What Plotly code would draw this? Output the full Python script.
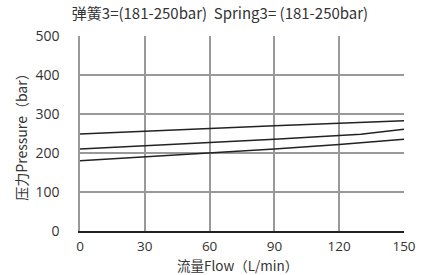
import plotly.graph_objects as go

flow_top = [0, 30, 60, 90, 120, 150]
p_top = [249, 256, 264, 270, 276, 283]
flow_mid = [0, 30, 60, 90, 120, 130, 150]
p_mid = [210, 219, 227, 235, 244, 248, 261]
flow_bot = [0, 30, 60, 90, 120, 150]
p_bot = [180, 190, 200, 210, 222, 235]

x_ticks = [0, 30, 60, 90, 120, 150]
y_ticks = [0, 100, 200, 300, 400, 500]

cjk_font = "Noto Sans CJK SC, Noto Sans, sans-serif"
num_font = "Open Sans, Noto Sans, sans-serif"

fig = go.Figure()
for xs, ys in [(flow_top, p_top), (flow_mid, p_mid), (flow_bot, p_bot)]:
    fig.add_trace(go.Scatter(x=xs, y=ys, mode="lines",
                             line=dict(color="#222222", width=1.5),
                             showlegend=False, hoverinfo="skip"))

fig.update_layout(
    width=440, height=275,
    margin=dict(l=80, r=36, t=36, b=44, autoexpand=False),
    paper_bgcolor="white", plot_bgcolor="white",
    font=dict(family=cjk_font, size=14, color="#333333"),
    title=dict(text="弹簧3=(181-250bar)  Spring3= (181-250bar)",
               x=0.5, xanchor="center", y=0.95, yanchor="middle",
               font=dict(family=cjk_font, size=15, color="#333333")),
    annotations=[dict(text="流量Flow（L/min）", xref="paper", yref="paper",
                      x=0.485, y=-0.175, xanchor="center", yanchor="middle",
                      showarrow=False,
                      font=dict(family=cjk_font, size=13.5, color="#333333"))],
)
fig.update_xaxes(range=[0, 150], tickvals=x_ticks, showgrid=True,
                 gridcolor="#999999", gridwidth=1.5, zeroline=False,
                 showline=True, linecolor="#222222", linewidth=2,
                 ticks="", ticklabelstandoff=2, automargin=False,
                 tickfont=dict(family=num_font, size=13.5, color="#333333"))
fig.update_yaxes(range=[0, 500], tickvals=y_ticks, showgrid=True,
                 gridcolor="#999999", gridwidth=1.5, zeroline=False,
                 showline=True, linecolor="#999999", linewidth=1.5,
                 ticks="", ticklabelstandoff=16, automargin=False,
                 tickfont=dict(family=num_font, size=14, color="#333333"),
                 title=dict(text="压力Pressure（bar）", standoff=5,
                            font=dict(family=cjk_font, size=14)))

fig.write_html("out.html")
